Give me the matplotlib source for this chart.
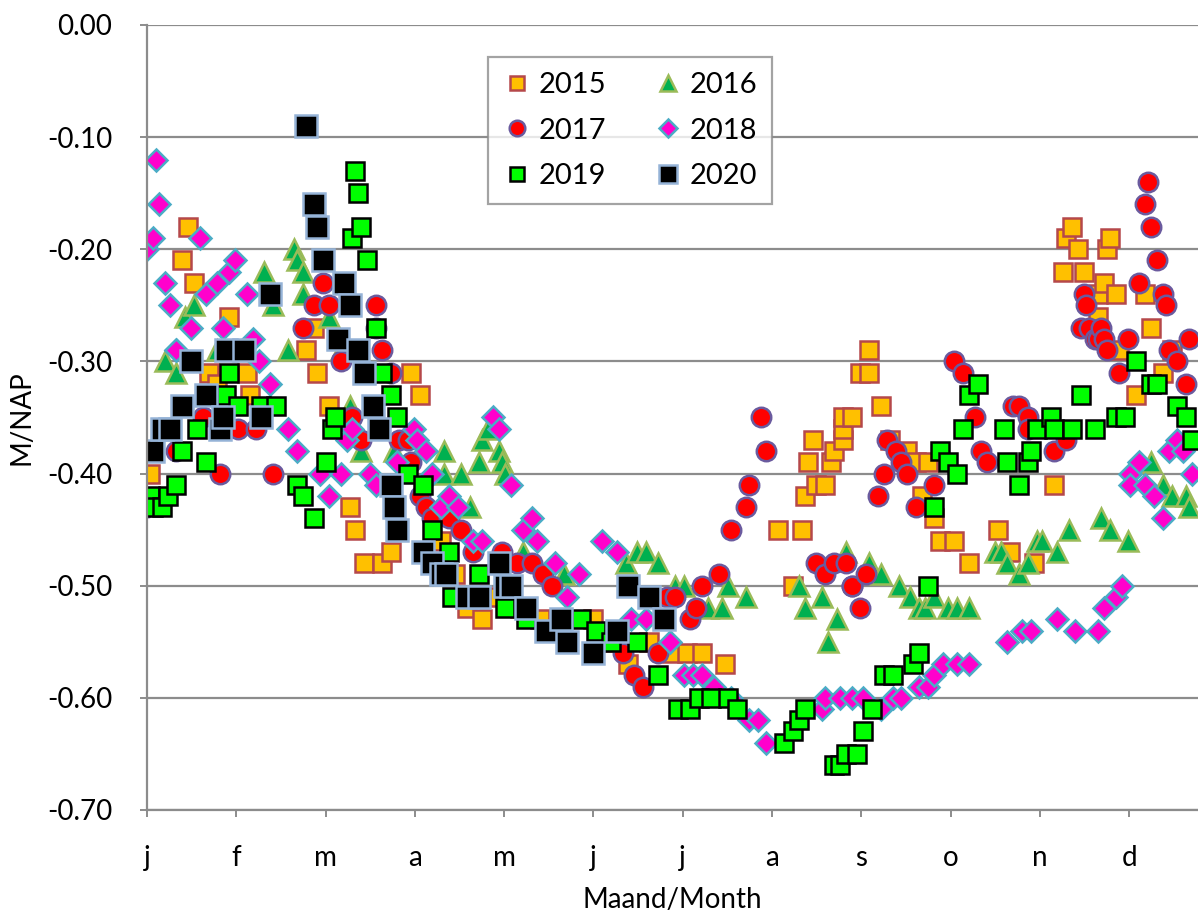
import matplotlib
matplotlib.use("Agg")
import matplotlib.pyplot as plt

plt.rcParams['font.family'] = ['Lato', 'DejaVu Sans']

# day of year (0-365) and water level in m NAP
d2015 = [1, 12, 14, 16, 21, 24, 28, 34, 35, 54, 57, 58, 62, 69, 71, 74, 80, 83, 90, 93,
         100, 105, 109, 114, 120, 127, 134, 141, 152, 159, 164, 171, 179, 184, 189, 197,
         215, 220, 223, 224, 225, 227, 228, 231, 233, 234, 237, 237, 237, 240, 243, 246,
         246, 250, 253, 259, 262, 264, 266, 268, 270, 275, 280, 290, 294, 302, 309, 312,
         313, 315, 317, 319, 324, 324, 326, 327, 328, 330, 331, 337, 340, 342, 346, 349]
v2015 = [-0.40, -0.21, -0.18, -0.23, -0.31, -0.32, -0.26, -0.31, -0.33, -0.29, -0.27, -0.31,
         -0.34, -0.43, -0.45, -0.48, -0.48, -0.47, -0.31, -0.33, -0.46, -0.49, -0.52, -0.53,
         -0.51, -0.52, -0.53, -0.54, -0.53, -0.55, -0.57, -0.55, -0.56, -0.56, -0.56, -0.57,
         -0.45, -0.50, -0.45, -0.42, -0.39, -0.37, -0.41, -0.41, -0.39, -0.38, -0.37, -0.36,
         -0.35, -0.35, -0.31, -0.29, -0.31, -0.34, -0.37, -0.38, -0.39, -0.42, -0.39, -0.44,
         -0.46, -0.46, -0.48, -0.45, -0.47, -0.48, -0.41, -0.22, -0.19, -0.18, -0.20, -0.22,
         -0.24, -0.26, -0.23, -0.20, -0.19, -0.24, -0.29, -0.33, -0.24, -0.27, -0.31, -0.29]

d2016 = [6, 10, 13, 16, 24, 40, 43, 48, 50, 51, 53, 53, 62, 66, 69, 73, 84, 101, 101, 107,
         110, 113, 114, 116, 120, 121, 122, 128, 142, 163, 167, 170, 174, 180, 183, 191,
         196, 198, 204, 222, 224, 230, 232, 235, 238, 246, 250, 256, 260, 263, 265, 268,
         273, 276, 280, 289, 291, 293, 297, 300, 303, 305, 310, 314, 325, 328, 334, 342,
         346, 349, 354, 355]
v2016 = [-0.30, -0.31, -0.26, -0.25, -0.29, -0.22, -0.25, -0.29, -0.20, -0.21, -0.22, -0.24,
         -0.26, -0.29, -0.34, -0.38, -0.38, -0.40, -0.38, -0.40, -0.43, -0.39, -0.37, -0.36,
         -0.38, -0.39, -0.40, -0.47, -0.49, -0.48, -0.47, -0.47, -0.48, -0.50, -0.50, -0.52,
         -0.52, -0.50, -0.51, -0.50, -0.52, -0.51, -0.55, -0.53, -0.47, -0.48, -0.49, -0.50,
         -0.51, -0.52, -0.52, -0.51, -0.52, -0.52, -0.52, -0.47, -0.47, -0.48, -0.49, -0.48,
         -0.46, -0.46, -0.47, -0.45, -0.44, -0.45, -0.46, -0.39, -0.41, -0.42, -0.42, -0.43]

d2017 = [0, 10, 19, 25, 31, 37, 43, 53, 57, 60, 62, 66, 70, 73, 78, 78, 80, 83, 86, 89, 90,
         93, 95, 97, 103, 107, 111, 121, 126, 131, 135, 138, 162, 166, 169, 174, 177, 180,
         185, 187, 189, 195, 199, 204, 205, 209, 211, 228, 231, 234, 238, 240, 240, 243,
         245, 249, 251, 252, 255, 257, 259, 262, 268, 275, 278, 282, 284, 286, 295, 297,
         300, 300, 309, 313, 318, 319, 320, 321, 323, 324, 325, 326, 327, 331, 334, 338,
         340, 341, 342, 344, 346, 347, 348, 351, 354, 355]
v2017 = [-0.43, -0.38, -0.35, -0.40, -0.36, -0.36, -0.40, -0.27, -0.25, -0.23, -0.25, -0.30,
         -0.35, -0.37, -0.27, -0.25, -0.29, -0.31, -0.37, -0.37, -0.39, -0.42, -0.43, -0.44,
         -0.44, -0.45, -0.47, -0.47, -0.48, -0.48, -0.49, -0.50, -0.56, -0.58, -0.59, -0.56,
         -0.51, -0.51, -0.53, -0.52, -0.50, -0.49, -0.45, -0.43, -0.41, -0.35, -0.38, -0.48,
         -0.49, -0.48, -0.48, -0.50, -0.50, -0.52, -0.49, -0.42, -0.40, -0.37, -0.38, -0.39,
         -0.40, -0.43, -0.41, -0.30, -0.31, -0.35, -0.38, -0.39, -0.34, -0.34, -0.35, -0.36,
         -0.38, -0.37, -0.27, -0.24, -0.25, -0.27, -0.28, -0.28, -0.27, -0.28, -0.29, -0.31,
         -0.28, -0.23, -0.16, -0.14, -0.18, -0.21, -0.24, -0.25, -0.29, -0.30, -0.32, -0.28]

d2018 = [0, 2, 3, 4, 6, 8, 10, 10, 15, 18, 20, 24, 26, 28, 30, 34, 36, 38, 42, 48, 51, 59,
         62, 66, 68, 70, 76, 78, 85, 91, 92, 95, 97, 100, 103, 106, 111, 114, 118, 120, 124,
         128, 131, 133, 139, 143, 147, 155, 160, 165, 170, 178, 183, 186, 189, 193, 199,
         205, 208, 211, 230, 231, 236, 240, 244, 250, 254, 257, 263, 266, 268, 271, 276,
         280, 293, 298, 301, 310, 316, 324, 326, 330, 332, 335, 335, 338, 340, 343, 346,
         348, 351, 353, 356]
v2018 = [-0.20, -0.19, -0.12, -0.16, -0.23, -0.25, -0.29, -0.29, -0.27, -0.19, -0.24, -0.23,
         -0.27, -0.22, -0.21, -0.24, -0.28, -0.30, -0.32, -0.36, -0.38, -0.40, -0.42, -0.40,
         -0.37, -0.36, -0.40, -0.41, -0.39, -0.36, -0.37, -0.38, -0.40, -0.43, -0.42, -0.43,
         -0.46, -0.46, -0.35, -0.36, -0.41, -0.45, -0.44, -0.46, -0.48, -0.51, -0.49, -0.46,
         -0.47, -0.53, -0.53, -0.55, -0.58, -0.58, -0.58, -0.59, -0.60, -0.62, -0.62, -0.64,
         -0.61, -0.60, -0.60, -0.60, -0.60, -0.61, -0.60, -0.60, -0.59, -0.59, -0.58, -0.57,
         -0.57, -0.57, -0.55, -0.54, -0.54, -0.53, -0.54, -0.54, -0.52, -0.51, -0.50, -0.40,
         -0.41, -0.39, -0.41, -0.42, -0.44, -0.38, -0.37, -0.38, -0.40]

d2019 = [1, 2, 5, 7, 10, 12, 17, 20, 27, 28, 31, 39, 44, 51, 53, 57, 61, 63, 64, 70, 71,
         72, 73, 75, 78, 80, 83, 85, 89, 94, 97, 103, 104, 113, 122, 129, 148, 153, 158,
         167, 174, 181, 185, 188, 192, 198, 201, 217, 220, 222, 224, 234, 236, 238, 242,
         244, 247, 251, 254, 261, 263, 266, 268, 270, 273, 276, 278, 280, 283, 292, 293,
         297, 300, 301, 303, 308, 309, 315, 318, 323, 330, 333, 337, 342, 344, 351, 354, 356]
v2019 = [-0.42, -0.43, -0.43, -0.42, -0.41, -0.38, -0.36, -0.39, -0.33, -0.31, -0.34, -0.34,
         -0.34, -0.41, -0.42, -0.44, -0.39, -0.36, -0.35, -0.19, -0.13, -0.15, -0.18, -0.21,
         -0.27, -0.31, -0.33, -0.35, -0.40, -0.41, -0.45, -0.47, -0.51, -0.49, -0.52, -0.53,
         -0.53, -0.54, -0.55, -0.55, -0.58, -0.61, -0.61, -0.60, -0.60, -0.60, -0.61, -0.64,
         -0.63, -0.62, -0.61, -0.66, -0.66, -0.65, -0.65, -0.63, -0.61, -0.58, -0.58, -0.57,
         -0.56, -0.50, -0.43, -0.38, -0.39, -0.40, -0.36, -0.33, -0.32, -0.36, -0.39, -0.41,
         -0.39, -0.38, -0.36, -0.35, -0.36, -0.36, -0.33, -0.36, -0.35, -0.35, -0.30, -0.32,
         -0.32, -0.34, -0.35, -0.37]

d2020 = [2, 5, 8, 12, 15, 20, 25, 26, 27, 33, 39, 42, 54, 57, 58, 60, 65, 67, 69, 72, 74,
         77, 79, 83, 84, 85, 94, 97, 100, 102, 109, 113, 120, 122, 124, 129, 136, 141, 143,
         152, 160, 164, 171, 176]
v2020 = [-0.38, -0.36, -0.36, -0.34, -0.30, -0.33, -0.36, -0.35, -0.29, -0.29, -0.35, -0.24,
         -0.09, -0.16, -0.18, -0.21, -0.28, -0.23, -0.25, -0.29, -0.31, -0.34, -0.36, -0.41,
         -0.43, -0.45, -0.47, -0.48, -0.49, -0.49, -0.51, -0.51, -0.48, -0.50, -0.50, -0.52,
         -0.54, -0.53, -0.55, -0.56, -0.54, -0.50, -0.51, -0.53]

month_labels = ['j', 'f', 'm', 'a', 'm', 'j', 'j', 'a', 's', 'o', 'n', 'd']

fig = plt.figure(figsize=(11.98, 9.14), dpi=100)
ax = fig.add_axes([0.1227, 0.1138, 0.8773, 0.8589])

series = [
    ('2015', d2015, v2015, 's', 13, '#FFC000', '#B5484A'),
    ('2016', d2016, v2016, '^', 14, '#00B050', '#9BBB59'),
    ('2017', d2017, v2017, 'o', 14, '#FF0000', '#6A5A9E'),
    ('2018', d2018, v2018, 'D', 11, '#FF00CC', '#4BACC6'),
    ('2019', d2019, v2019, 's', 13, '#00FF00', '#000000'),
    ('2020', d2020, v2020, 's', 16, '#000000', '#95B3D7'),
]
handles = {}
for name, d, v, mk, ms, fc, ec in series:
    h, = ax.plot(d, v, linestyle='none', marker=mk, markersize=ms,
                 markerfacecolor=fc, markeredgecolor=ec, markeredgewidth=1.8,
                 label=name)
    handles[name] = h

ax.set_xlim(0, 358)
ax.set_ylim(-0.70, 0.0)
ax.set_yticks([-0.7 + 0.1 * i for i in range(8)])
ax.set_yticklabels(['%.2f' % (-0.7 + 0.1 * i) for i in range(8)])
ax.set_xticks([365 / 12 * i for i in range(12)])
ax.set_xticklabels(month_labels)
ax.grid(axis='y', color='#8c8c8c', linewidth=1.6)
ax.set_axisbelow(True)
for s in ['top', 'right']:
    ax.spines[s].set_visible(False)
for s in ['left', 'bottom']:
    ax.spines[s].set_color('#8c8c8c')
    ax.spines[s].set_linewidth(1.6)
ax.tick_params(axis='both', labelsize=20, colors='#8c8c8c', labelcolor='black',
               length=5, width=1.4)
ax.tick_params(axis='y', pad=20)
ax.tick_params(axis='x', pad=20)
ax.set_xlabel('Maand/Month', fontsize=20, labelpad=12)
ax.set_ylabel('M/NAP', fontsize=20, labelpad=9)

order = ['2015', '2017', '2019', '2016', '2018', '2020']
leg = ax.legend([handles[k] for k in order], order, ncol=2, fontsize=21,
                loc='upper left', bbox_to_anchor=(0.3245, 0.959), borderaxespad=0,
                frameon=True, fancybox=False, edgecolor='#8c8c8c',
                handletextpad=0.25, columnspacing=1.6, labelspacing=0.68,
                borderpad=0.5, handlelength=1.0, markerscale=0.8)
leg.get_frame().set_linewidth(1.6)

fig.savefig('out.png', dpi=100)
